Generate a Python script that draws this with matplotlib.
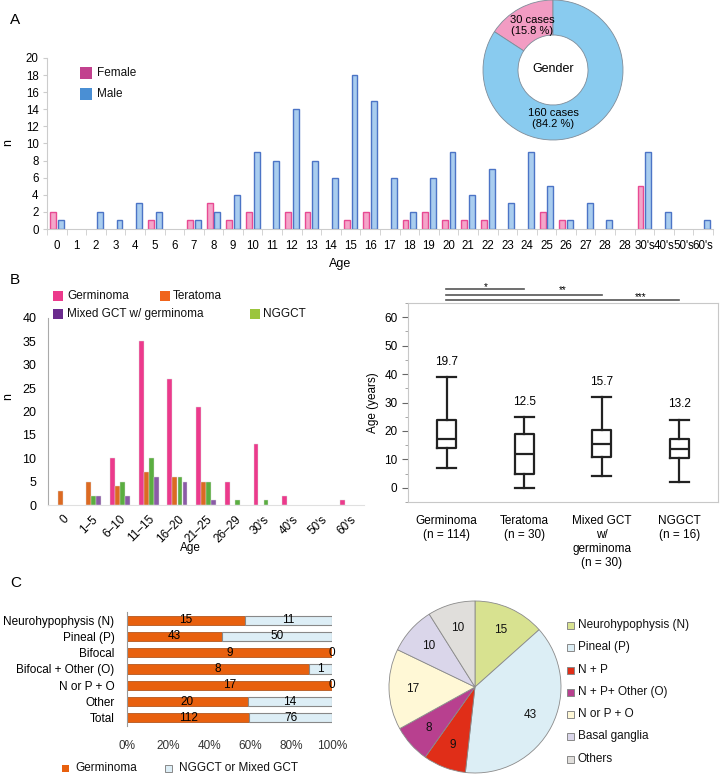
import matplotlib
matplotlib.use('Agg')
import matplotlib.pyplot as plt
from matplotlib.patches import Rectangle
from matplotlib.ticker import MultipleLocator
import numpy as np

plt.rcParams['font.family'] = ['Liberation Sans', 'DejaVu Sans']
plt.rcParams['font.size'] = 8.5

# ---------------- DATA ----------------
# Panel A: age distribution by gender
ages_A = ['0', '1', '2', '3', '4', '5', '6', '7', '8', '9', '10', '11', '12', '13', '14',
          '15', '16', '17', '18', '19', '20', '21', '22', '23', '24', '25', '26', '27',
          '28', '28', "30's", "40's", "50's", "60's"]
female = [2, 0, 0, 0, 0, 1, 0, 1, 3, 1, 2, 0, 2, 2, 0, 1, 2, 0, 1, 2, 1, 1, 1, 0, 0, 2,
          1, 0, 0, 0, 5, 0, 0, 0]
male = [1, 0, 2, 1, 3, 2, 0, 1, 2, 4, 9, 8, 14, 8, 6, 18, 15, 6, 2, 6, 9, 4, 7, 3, 9, 5,
        1, 3, 1, 0, 9, 2, 0, 1]
gender_labels = ['Female', 'Male']
gender_cases = [30, 160]
gender_pct = [15.8, 84.2]

# Panel B left: age groups by histology
ages_B = ['0', '1–5', '6–10', '11–15', '16–20', '21–25', '26–29', "30's", "40's", "50's", "60's"]
germinoma_B = [0, 0, 10, 35, 27, 21, 5, 13, 2, 0, 1]
teratoma_B = [3, 5, 4, 7, 6, 5, 0, 0, 0, 0, 0]
green_B = [0, 2, 5, 10, 6, 5, 1, 1, 0, 0, 0]
purple_B = [0, 2, 2, 6, 5, 1, 0, 0, 0, 0, 0]
legend_B = ['Germinoma', 'Teratoma', 'Mixed GCT w/ germinoma', 'NGGCT']

# Panel B right: box plot stats
box_labels = ['Germinoma\n(n = 114)', 'Teratoma\n(n = 30)', 'Mixed GCT\nw/\ngerminoma\n(n = 30)',
              'NGGCT\n(n = 16)']
box_whislo = [7, 0, 4, 2]
box_q1 = [14, 5, 11, 10.5]
box_med = [17, 12, 15.3, 13.5]
box_q3 = [24, 19, 20.5, 17]
box_whishi = [39, 25, 32, 24]
box_mean = [19.7, 12.5, 15.7, 13.2]
sig_stars = ['*', '**', '***']

# Panel C left: location by histology
loc_labels = ['Neurohypophysis (N)', 'Pineal (P)', 'Bifocal', 'Bifocal + Other (O)',
              'N or P + O', 'Other', 'Total']
loc_germ = [15, 43, 9, 8, 17, 20, 112]
loc_other = [11, 50, 0, 1, 0, 14, 76]
legend_C = ['Germinoma', 'NGGCT or Mixed GCT']

# Panel C right: pie of germinoma locations
pie_labels = ['Neurohypophysis (N)', 'Pineal (P)', 'N + P', 'N + P+ Other (O)', 'N or P + O',
              'Basal ganglia', 'Others']
pie_values = [15, 43, 9, 8, 17, 10, 10]
pie_colors = ['#D8E290', '#DCEEF5', '#E02E18', '#B8408F', '#FFF8D6', '#DAD6EA', '#E0DEDB']

# ---------------- FIGURE ----------------
W, H = 720, 775
fig = plt.figure(figsize=(W / 100, H / 100), dpi=100)


def add_ax(l, t, r, b):
    return fig.add_axes([l / W, 1 - b / H, (r - l) / W, (b - t) / H])


def fx(x):
    return x / W


def fy(y):
    return 1 - y / H


def legend_item(x, y, size, color, label, tx, edge='none'):
    fig.add_artist(Rectangle((fx(x), fy(y + size / 2)), size / W, size / H,
                             transform=fig.transFigure, facecolor=color,
                             edgecolor=edge, lw=0.7))
    fig.text(fx(tx), fy(y), label, va='center', ha='left', fontsize=8.5, color='#111')


def pie_axes(cx, cy, r, pad=3):
    ax = add_ax(cx - r - pad, cy - r - pad, cx + r + pad, cy + r + pad)
    return ax, (r + pad) / r


# ---------------- PANEL A ----------------
fig.text(fx(10), fy(20), 'A', fontsize=11, va='center')
axA = add_ax(47, 58, 713, 229)
xA = np.arange(len(ages_A))
fA = np.array(female)
mA = np.array(male)
mf = fA > 0
mm = mA > 0
axA.bar(xA[mf] - 0.2, fA[mf], width=0.3, color='#F4A5C9', edgecolor='#E84A93', lw=1)
axA.bar(xA[mm] + 0.2, mA[mm], width=0.3, color='#A9CDEF', edgecolor='#4C74C6', lw=1)
axA.set_xlim(-0.5, len(ages_A) - 0.5)
axA.set_ylim(0, 20)
axA.yaxis.set_major_locator(MultipleLocator(2))
axA.set_xticks(xA)
axA.set_xticklabels(ages_A, fontsize=8.3)
axA.set_xticks(np.arange(len(ages_A) + 1) - 0.5, minor=True)
axA.tick_params(axis='x', which='major', length=0, pad=8)
axA.tick_params(axis='x', which='minor', length=4, color='#cccccc')
axA.tick_params(axis='y', length=3, color='#cccccc', labelsize=8.3, pad=3)
for s in ['top', 'right']:
    axA.spines[s].set_visible(False)
for s in ['left', 'bottom']:
    axA.spines[s].set_color('#cccccc')
fig.text(fx(340), fy(264), 'Age', ha='center', va='center', fontsize=9)
fig.text(fx(8), fy(143), 'n', ha='center', va='center', rotation=90, fontsize=9)
legend_item(80, 73, 12, '#C2418E', gender_labels[0], 97)
legend_item(80, 94, 12, '#4A8FD4', gender_labels[1], 97)

# donut
axD, lim = pie_axes(553, 70, 70)
axD.pie(gender_cases, colors=['#F29CC3', '#89CBEF'], startangle=90, counterclock=True,
        wedgeprops=dict(width=0.5, edgecolor='#7F8C99', linewidth=0.6))
axD.set_xlim(-lim, lim)
axD.set_ylim(-lim, lim)
axD.set_aspect('equal')
axD.text(-0.3, 0.64, f'{gender_cases[0]} cases\n({gender_pct[0]} %)', ha='center', va='center',
         fontsize=8, linespacing=1.15)
axD.text(0, -0.69, f'{gender_cases[1]} cases\n({gender_pct[1]} %)', ha='center', va='center',
         fontsize=8, linespacing=1.15)
axD.text(0, 0.02, 'Gender', ha='center', va='center', fontsize=9)

# ---------------- PANEL B left ----------------
fig.text(fx(10), fy(280), 'B', fontsize=11, va='center')
axB = add_ax(48, 318, 364, 505)
xB = np.arange(len(ages_B))
w = 0.17
series = [germinoma_B, teratoma_B, green_B, purple_B]
bcolors = ['#EC3A8C', '#DC6A22', '#5AAE40', '#8A5BA6']
for k, (vals, c) in enumerate(zip(series, bcolors)):
    v = np.array(vals)
    m = v > 0
    axB.bar(xB[m] + (k - 1.5) * 0.175, v[m], width=w, color=c, edgecolor='#dddddd', lw=0.3)
axB.set_xlim(-0.51, len(ages_B) - 0.5)
axB.set_ylim(0, 40)
axB.yaxis.set_major_locator(MultipleLocator(5))
axB.set_xticks(xB)
axB.set_xticklabels(ages_B, rotation=45, ha='right', rotation_mode='anchor', fontsize=8.5)
axB.tick_params(axis='x', length=0, pad=6)
axB.tick_params(axis='y', length=0, labelsize=9, pad=8.5)
for s in ['top', 'right']:
    axB.spines[s].set_visible(False)
axB.spines['left'].set_color('#aaaaaa')
axB.spines['bottom'].set_color('#e0e0e0')
fig.text(fx(190), fy(548), 'Age', ha='center', va='center', fontsize=8.5)
fig.text(fx(8), fy(397), 'n', ha='center', va='center', rotation=90, fontsize=9)
legend_item(53, 296, 10, '#EC3A8C', legend_B[0], 67)
legend_item(160, 296, 10, '#F0641C', legend_B[1], 173)
legend_item(53, 314, 10, '#6B2C8E', legend_B[2], 67)
legend_item(250, 314, 10, '#9BC53D', legend_B[3], 263)

# ---------------- PANEL B right (box plot) ----------------
axX = add_ax(408, 303, 718, 502)
stats = []
for i in range(4):
    stats.append(dict(med=box_med[i], q1=box_q1[i], q3=box_q3[i],
                      whislo=box_whislo[i], whishi=box_whishi[i], fliers=[]))
lp = dict(color='#222222', linewidth=1.6)
pos = np.arange(1, 5)
axX.bxp(stats, positions=pos, widths=0.245, capwidths=0.245, showfliers=False,
        boxprops=lp, whiskerprops=lp, capprops=lp, medianprops=lp)
axX.set_xlim(0.5, 4.5)
axX.set_ylim(-5, 65)
axX.yaxis.set_major_locator(MultipleLocator(10))
axX.yaxis.set_minor_locator(MultipleLocator(5))
axX.set_xticks(pos)
axX.set_xticklabels(box_labels, fontsize=8.5, linespacing=1.25, va='top')
axX.tick_params(axis='x', length=0, pad=9)
axX.tick_params(axis='y', which='major', length=4, color='#666', labelsize=8.5)
axX.tick_params(axis='y', which='minor', length=2, color='#999')
for s in axX.spines.values():
    s.set_color('#c8c8c8')
axX.set_ylabel('Age (years)', fontsize=8.5, labelpad=4)
for i in range(4):
    axX.text(pos[i], box_whishi[i] + 5.3, f'{box_mean[i]}', ha='center', va='center', fontsize=8.5)
sig_y = [69.9, 67.8, 66.1]
star_y = [69.7, 68.5, 66.1]
for j in range(3):
    axX.plot([pos[0] - 0.01, pos[j + 1]], [sig_y[j], sig_y[j]], color='#555555', lw=1.2,
             clip_on=False)
    axX.text(1.5 + j, star_y[j], sig_stars[j], ha='center', va='baseline', fontsize=7)

# ---------------- PANEL C left ----------------
fig.text(fx(10), fy(583), 'C', fontsize=11, va='center')
axC = add_ax(127, 612, 332, 726)
g = np.array(loc_germ, dtype=float)
o = np.array(loc_other, dtype=float)
tot = g + o
gp = g / tot
op = o / tot
yC = np.arange(len(loc_labels))
axC.barh(yC, gp, height=0.56, color='#E8600E', edgecolor='#A8460A', lw=0.5)
axC.barh(yC, op, left=gp, height=0.56, color='#DDEEF6', edgecolor='#888888', lw=0.8)
for i in range(len(yC)):
    axC.text(gp[i] / 2, yC[i], f'{loc_germ[i]}', ha='center', va='center', fontsize=8.5)
    xo = gp[i] + op[i] / 2 if loc_other[i] > 0 else 1.0
    axC.text(xo, yC[i], f'{loc_other[i]}', ha='center', va='center', fontsize=8.5)
axC.set_xlim(0, 1)
axC.set_ylim(len(yC) - 0.5, -0.5)
axC.set_yticks(yC)
axC.set_yticklabels(loc_labels, fontsize=8.5)
axC.set_xticks(np.linspace(0, 1, 6))
axC.set_xticklabels([f'{int(v)}%' for v in np.linspace(0, 100, 6)], fontsize=8.5, color='#333')
axC.tick_params(axis='both', length=0)
axC.tick_params(axis='x', pad=10)
axC.tick_params(axis='y', pad=9)
for s in ['top', 'right', 'bottom']:
    axC.spines[s].set_visible(False)
axC.spines['left'].set_color('#999999')
legend_item(62, 768, 7, '#E8600E', legend_C[0], 75)
legend_item(165, 768, 7, '#DDEEF6', legend_C[1], 179, edge='#888888')

# ---------------- PANEL C right (pie) ----------------
axP, limP = pie_axes(475, 687, 86)
total_p = sum(pie_values)
axP.pie(pie_values, colors=pie_colors, startangle=90, counterclock=False,
        wedgeprops=dict(edgecolor='#8a8a8a', linewidth=0.6),
        autopct=lambda p: f'{p * total_p / 100:.0f}', pctdistance=0.72,
        textprops=dict(fontsize=8.5, color='#111'))
axP.set_xlim(-limP, limP)
axP.set_ylim(-limP, limP)
axP.set_aspect('equal')
leg_y = [625, 647, 670, 692, 714, 736, 759]
for lbl, c, yy in zip(pie_labels, pie_colors, leg_y):
    legend_item(567, yy, 7, c, lbl, 578, edge='#888888')

fig.savefig('out.png', dpi=100)
